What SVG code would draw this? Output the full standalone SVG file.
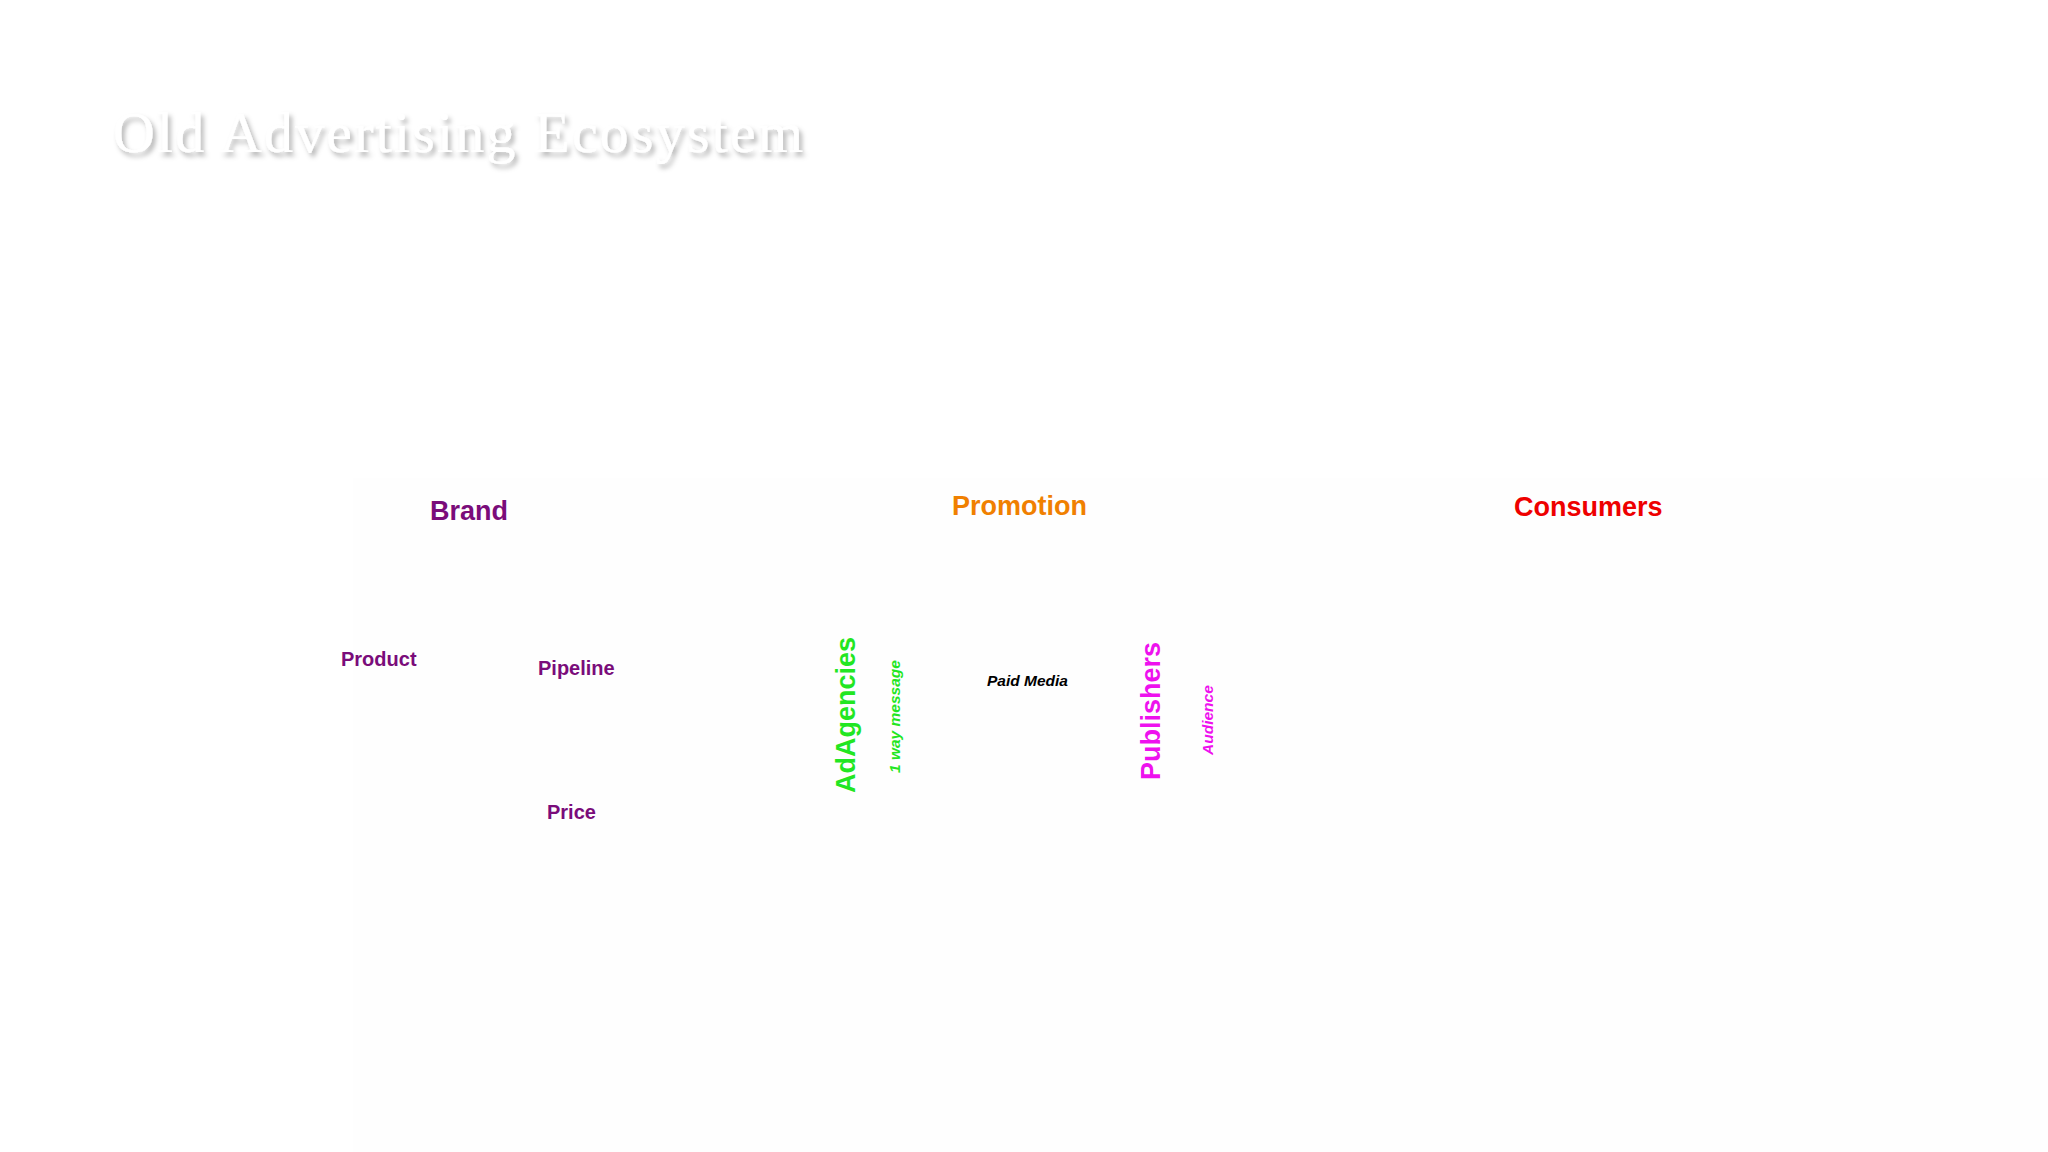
<svg xmlns="http://www.w3.org/2000/svg" width="2048" height="1152" viewBox="0 0 2048 1152">
  <defs>
    <filter id="shadow" x="-5%" y="-30%" width="110%" height="160%">
      <feDropShadow dx="3" dy="4" stdDeviation="2.5" flood-color="#000" flood-opacity="0.3"/>
    </filter>
  </defs>
  <style>
    .lbl { font-family: "Liberation Sans", Arial, sans-serif; font-weight: bold; }
    .big { font-size: 27px; }
    .mid { font-size: 20px; }
    .small { font-size: 15.5px; font-style: italic; }
    .purple { fill: #7a0c7a; }
    .green { fill: #22e622; }
    .magenta { fill: #ee11ee; }
  </style>
  <rect x="0" y="0" width="2048" height="1152" fill="#ffffff"/>
  <g id="background">
    <rect x="353" y="478" width="1695" height="674" fill="#fefefe"/>
  </g>
  <g id="title">
    <text x="113" y="152" font-family="Liberation Serif, 'Times New Roman', serif" font-size="58" fill="#ffffff" textLength="690" lengthAdjust="spacing" filter="url(#shadow)">Old Advertising Ecosystem</text>
  </g>
  <g id="connectors"></g>
  <g id="brand"><text class="lbl big purple" x="430" y="520">Brand</text></g>
  <g id="product"><text class="lbl mid purple" x="341" y="666">Product</text></g>
  <g id="pipeline"><text class="lbl mid purple" x="538" y="675">Pipeline</text></g>
  <g id="price"><text class="lbl mid purple" x="547" y="819">Price</text></g>
  <g id="promotion"><text class="lbl big" x="952" y="515" fill="#f08000">Promotion</text></g>
  <g id="consumers"><text class="lbl big" x="1514" y="516" fill="#ee0000">Consumers</text></g>
  <g id="adagencies"><text class="lbl big green" transform="translate(855,793) rotate(-90)">AdAgencies</text></g>
  <g id="one-way-message"><text class="lbl small green" transform="translate(900,773) rotate(-90)">1 way message</text></g>
  <g id="paid-media"><text class="lbl small" x="987" y="686" fill="#000000">Paid Media</text></g>
  <g id="publishers"><text class="lbl big magenta" transform="translate(1160,780) rotate(-90)">Publishers</text></g>
  <g id="audience"><text class="lbl small magenta" transform="translate(1213,755) rotate(-90)">Audience</text></g>
</svg>
